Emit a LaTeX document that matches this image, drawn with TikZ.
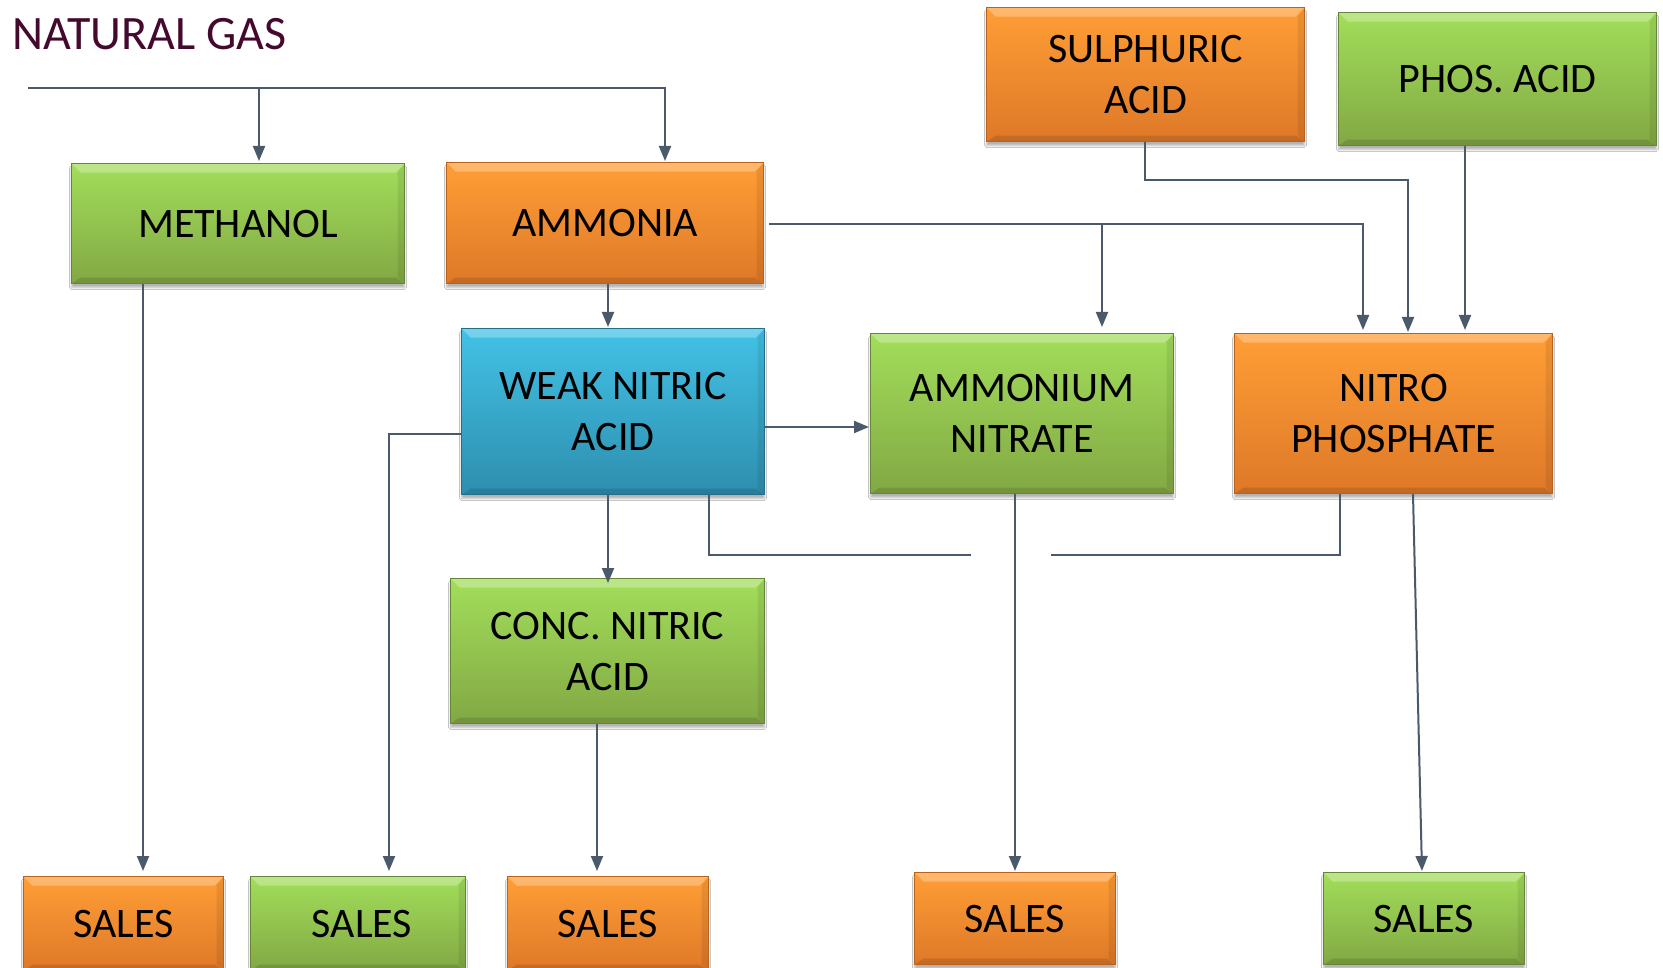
\documentclass[tikz,border=0pt]{standalone}
\usepackage{fontspec}
\setmainfont{Carlito}
\usetikzlibrary{arrows.meta,shadows.blur,calc}
\definecolor{gtop}{HTML}{A2DE5A}
\definecolor{gbot}{HTML}{82A844}
\definecolor{gbrd}{HTML}{65853A}
\definecolor{otop}{HTML}{FF9E36}
\definecolor{obot}{HTML}{DE7828}
\definecolor{obrd}{HTML}{B8621E}
\definecolor{btop}{HTML}{42C2E6}
\definecolor{bbot}{HTML}{2E8EAE}
\definecolor{bbrd}{HTML}{236E88}
\definecolor{linec}{HTML}{4B5A6A}
\definecolor{ngc}{HTML}{45092E}
\tikzset{
  boxbase/.style={rectangle, inner sep=0pt, anchor=north west, align=center,
    font=\fontsize{42}{51}\selectfont, line width=1.2pt,
    blur shadow={shadow xshift=0pt, shadow yshift=-4pt, shadow blur steps=6, shadow opacity=30},
    path picture={
      \fill[white,opacity=0.28] (path picture bounding box.north west) -- (path picture bounding box.north east)
        -- ([xshift=-9pt,yshift=-9pt]path picture bounding box.north east) -- ([xshift=9pt,yshift=-9pt]path picture bounding box.north west) -- cycle;
      \fill[black,opacity=0.12] (path picture bounding box.south west) -- (path picture bounding box.south east)
        -- ([xshift=-9pt,yshift=6pt]path picture bounding box.south east) -- ([xshift=9pt,yshift=6pt]path picture bounding box.south west) -- cycle;
      \fill[black,opacity=0.08] (path picture bounding box.north east) -- (path picture bounding box.south east)
        -- ([xshift=-7pt,yshift=6pt]path picture bounding box.south east) -- ([xshift=-7pt,yshift=-9pt]path picture bounding box.north east) -- cycle;
    }},
  greenbox/.style={boxbase, top color=gtop, bottom color=gbot, draw=gbrd},
  orangebox/.style={boxbase, top color=otop, bottom color=obot, draw=obrd},
  bluebox/.style={boxbase, top color=btop, bottom color=bbot, draw=bbrd},
  conn/.style={draw=linec, line width=2pt},
  arr/.style={conn, -{Triangle[width=12pt,length=15pt]}},
}
\begin{document}
\begin{tikzpicture}[x=1pt,y=-1pt]
\useasboundingbox (0,0) rectangle (1663,968);
\fill[white] (0,0) rectangle (1663,968);

% title
\node[anchor=base west, inner sep=0pt, text=ngc, font=\fontsize{48}{52}\selectfont] (ng) at (12,50) {NATURAL GAS};

% boxes
\node[greenbox, minimum width=333pt, minimum height=120pt] (methanol) at (71,163) {METHANOL};
\node[orangebox, minimum width=317pt, minimum height=121pt] (ammonia) at (446,162) {AMMONIA};
\node[orangebox, minimum width=318pt, minimum height=134pt] (sulph) at (986,7) {SULPHURIC\\ACID};
\node[greenbox, minimum width=318pt, minimum height=133pt] (phos) at (1338,12) {PHOS. ACID};
\node[bluebox, minimum width=303pt, minimum height=166pt] (weak) at (461,328) {WEAK NITRIC\\ACID};
\node[greenbox, minimum width=303pt, minimum height=160pt] (an) at (870,333) {AMMONIUM\\NITRATE};
\node[orangebox, minimum width=318pt, minimum height=160pt] (nitro) at (1234,333) {NITRO\\PHOSPHATE};
\node[greenbox, minimum width=314pt, minimum height=145pt] (conc) at (450,578) {CONC. NITRIC\\ACID};
\node[orangebox, minimum width=200pt, minimum height=94pt] (s1) at (23,876) {SALES};
\node[greenbox, minimum width=215pt, minimum height=94pt] (s2) at (250,876) {\hspace*{8pt}SALES};
\node[orangebox, minimum width=201pt, minimum height=94pt] (s3) at (507,876) {SALES};
\node[orangebox, minimum width=201pt, minimum height=92pt] (s4) at (914,872) {SALES};
\node[greenbox, minimum width=201pt, minimum height=92pt] (s5) at (1323,872) {SALES};

% guide coordinates
\coordinate (ngL) at (28,88);
\coordinate (ngR) at (665,88);
\coordinate (ngM) at (259,88);
\coordinate (xm) at (143,0);
\coordinate (xa) at (608,0);
\coordinate (amR) at (769,224);
\coordinate (amB) at (1102,224);
\coordinate (amE) at (1363,224);
\coordinate (suB) at (1145,180);
\coordinate (suE) at (1408,180);
\coordinate (xp) at (1465,0);
\coordinate (wl) at (389,434);
\coordinate (xw) at (709,555);
\coordinate (wEnd) at (971,555);
\coordinate (xn) at (1340,555);
\coordinate (nEnd) at (1051,555);
\coordinate (xan) at (1015,0);
\coordinate (xc) at (597,0);
\coordinate (n5a) at (1413,0);
\coordinate (n5b) at (1422,0);

% natural gas feed
\draw[arr, shorten >=1pt] (ngL) -- (ngR) -- (ngR |- ammonia.north);
\draw[arr, shorten >=2pt] (ngM) -- (ngM |- methanol.north);

% methanol -> sales
\draw[arr, shorten >=5pt] (xm |- methanol.south) -- (xm |- s1.north);

% ammonia -> weak nitric
\draw[arr, shorten >=1pt] (xa |- ammonia.south) -- (xa |- weak.north);

% ammonia -> ammonium nitrate / nitro phosphate
\draw[arr, shorten >=3pt] (amR) -- (amE) -- (amE |- nitro.north);
\draw[arr, shorten >=6pt] (amB) -- (amB |- an.north);

% sulphuric -> nitro
\draw[arr, shorten >=1pt] (suB |- sulph.south) -- (suB) -- (suE) -- (suE |- nitro.north);
% phos -> nitro
\draw[arr, shorten >=3pt] (xp |- phos.south) -- (xp |- nitro.north);

% weak -> ammonium nitrate
\draw[arr, shorten >=1pt] (weak.east |- 0,427) -- (an.west |- 0,427);
% weak -> sales 2
\draw[arr, shorten >=5pt] (weak.west |- wl) -- (wl) -- (wl |- s2.north);
% weak -> conc
\draw[arr, shorten >=-5pt] (xa |- weak.south) -- (xa |- conc.north);
% weak -> (open)
\draw[conn] (xw |- weak.south) -- (xw) -- (wEnd);
% nitro -> (open)
\draw[conn] (xn |- nitro.south) -- (xn) -- (nEnd);

% ammonium nitrate -> sales 4
\draw[arr, shorten >=1pt] (xan |- an.south) -- (xan |- s4.north);
% conc -> sales 3
\draw[arr, shorten >=5pt] (xc |- conc.south) -- (xc |- s3.north);
% nitro -> sales 5
\draw[arr, shorten >=1pt] (n5a |- nitro.south) -- (n5b |- s5.north);
\end{tikzpicture}
\end{document}
